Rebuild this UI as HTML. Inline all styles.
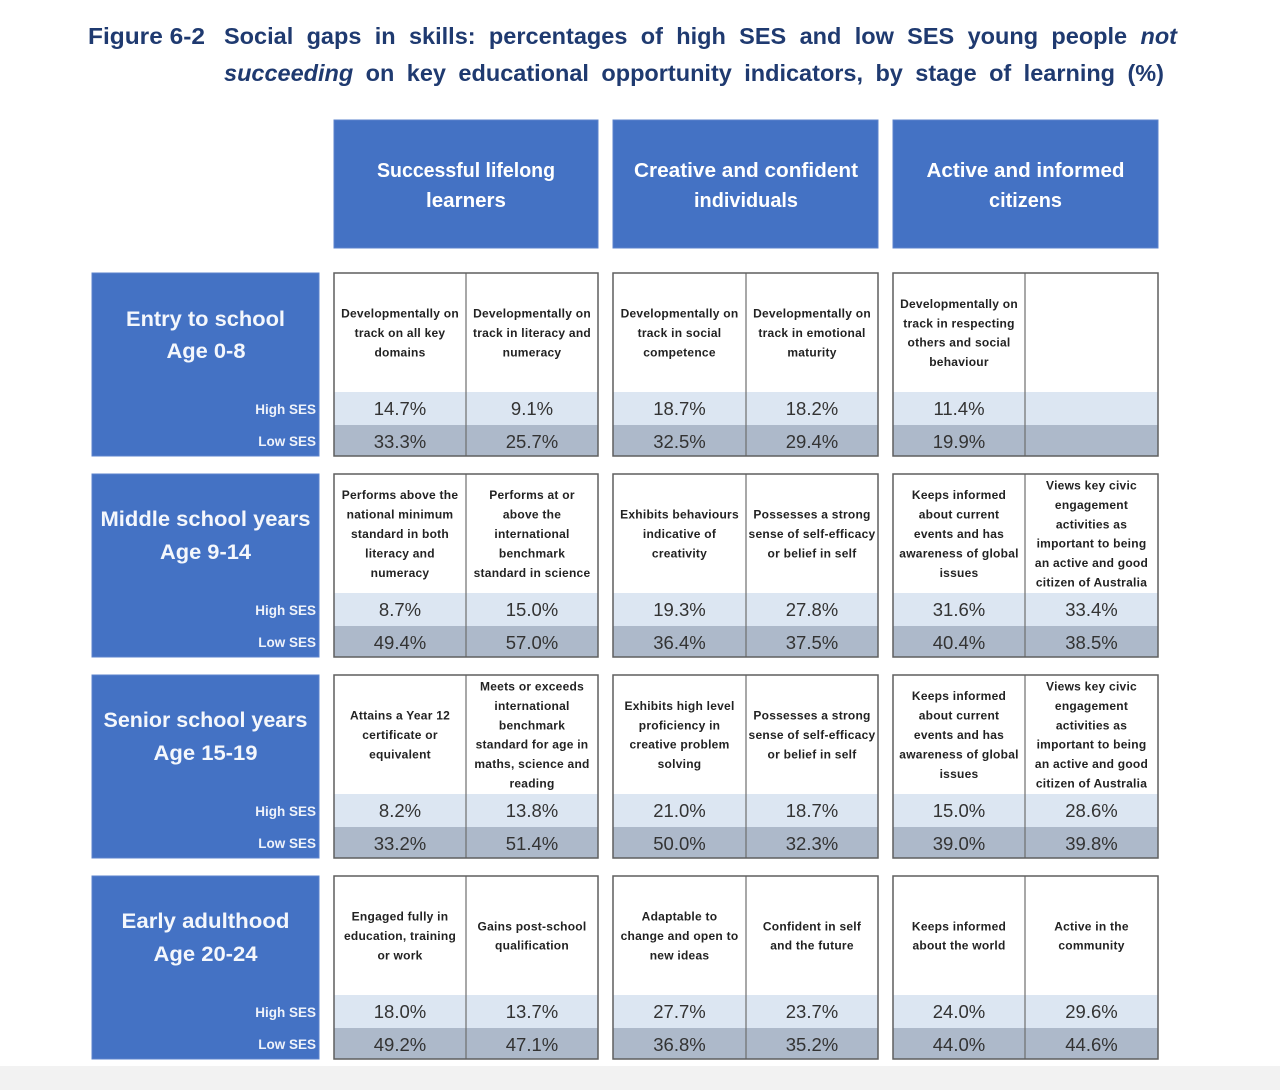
<!DOCTYPE html>
<html>
<head>
<meta charset="utf-8">
<style>
html,body{margin:0;padding:0;background:#ffffff;}
svg{display:block;}
.t{font-family:"Liberation Sans",sans-serif;font-weight:bold;font-size:23.5px;fill:#1f3a70;}
.hd{font-family:"Liberation Sans",sans-serif;font-weight:bold;font-size:20px;fill:#ffffff;text-anchor:middle;}
.lab{font-family:"Liberation Sans",sans-serif;font-weight:bold;font-size:21px;fill:#f4f7fc;text-anchor:middle;}
.ses{font-family:"Liberation Sans",sans-serif;font-weight:bold;font-size:13.5px;fill:#eef2fa;text-anchor:end;}
.d{font-family:"Liberation Sans",sans-serif;font-weight:bold;font-size:12px;fill:#222222;text-anchor:middle;letter-spacing:0.25px;}
.v{font-family:"Liberation Sans",sans-serif;font-size:18.5px;fill:#333333;text-anchor:middle;}
</style>
</head>
<body>
<svg width="1280" height="1090" viewBox="0 0 1280 1090" xmlns="http://www.w3.org/2000/svg">
<rect x="0" y="0" width="1280" height="1090" fill="#ffffff"/>
<rect x="0" y="1066" width="1280" height="24" fill="#f2f2f2"/>

<!-- Title -->
<text class="t" x="88" y="44" textLength="117" lengthAdjust="spacingAndGlyphs">Figure 6-2</text>
<text class="t" x="224" y="44" word-spacing="6.8" textLength="953" lengthAdjust="spacing">Social gaps in skills: percentages of high SES and low SES young people <tspan font-style="italic">not</tspan></text>
<text class="t" x="224" y="81" word-spacing="5.9" textLength="940" lengthAdjust="spacing"><tspan font-style="italic">succeeding</tspan> on key educational opportunity indicators, by stage of learning (%)</text>

<!-- Column headers -->
<rect x="334" y="120" width="264" height="128" fill="#4472c4" stroke="#5b83cc" stroke-width="1"/>
<rect x="613" y="120" width="265" height="128" fill="#4472c4" stroke="#5b83cc" stroke-width="1"/>
<rect x="893" y="120" width="265" height="128" fill="#4472c4" stroke="#5b83cc" stroke-width="1"/>
<text class="hd" x="466" y="177" textLength="178" lengthAdjust="spacingAndGlyphs">Successful lifelong</text>
<text class="hd" x="466" y="207" textLength="80" lengthAdjust="spacingAndGlyphs">learners</text>
<text class="hd" x="746" y="177" textLength="224" lengthAdjust="spacingAndGlyphs">Creative and confident</text>
<text class="hd" x="746" y="207" textLength="104" lengthAdjust="spacingAndGlyphs">individuals</text>
<text class="hd" x="1025.5" y="177" textLength="198" lengthAdjust="spacingAndGlyphs">Active and informed</text>
<text class="hd" x="1025.5" y="207" textLength="73" lengthAdjust="spacingAndGlyphs">citizens</text>

<!-- ROW 1 -->
<g transform="translate(0,273)">
  <rect x="92" y="0" width="227" height="183" fill="#4472c4" stroke="#5b83cc" stroke-width="1"/>
  <text class="lab" x="205.5" y="53" textLength="159" lengthAdjust="spacingAndGlyphs">Entry to school</text>
  <text class="lab" x="206" y="85" textLength="79" lengthAdjust="spacingAndGlyphs">Age 0-8</text>
  <text class="ses" x="316" y="141">High SES</text>
  <text class="ses" x="316" y="173">Low SES</text>

  <rect x="334" y="0" width="264" height="183" fill="#ffffff"/>
  <rect x="334" y="119" width="264" height="33" fill="#dce6f2"/>
  <rect x="334" y="152" width="264" height="31" fill="#adb9ca"/>
  <line x1="466" y1="0" x2="466" y2="183" stroke="#6e6e6e" stroke-width="1.2"/>
  <rect x="334" y="0" width="264" height="183" fill="none" stroke="#5f5f5f" stroke-width="1.5"/>

  <rect x="613" y="0" width="265" height="183" fill="#ffffff"/>
  <rect x="613" y="119" width="265" height="33" fill="#dce6f2"/>
  <rect x="613" y="152" width="265" height="31" fill="#adb9ca"/>
  <line x1="746" y1="0" x2="746" y2="183" stroke="#6e6e6e" stroke-width="1.2"/>
  <rect x="613" y="0" width="265" height="183" fill="none" stroke="#5f5f5f" stroke-width="1.5"/>

  <rect x="893" y="0" width="265" height="183" fill="#ffffff"/>
  <rect x="893" y="119" width="265" height="33" fill="#dce6f2"/>
  <rect x="893" y="152" width="265" height="31" fill="#adb9ca"/>
  <line x1="1025" y1="0" x2="1025" y2="183" stroke="#6e6e6e" stroke-width="1.2"/>
  <rect x="893" y="0" width="265" height="183" fill="none" stroke="#5f5f5f" stroke-width="1.5"/>

  <text class="d" x="400" y="44.6">Developmentally on</text>
  <text class="d" x="400" y="64">track on all key</text>
  <text class="d" x="400" y="83.4">domains</text>
  <text class="d" x="532" y="44.6">Developmentally on</text>
  <text class="d" x="532" y="64">track in literacy and</text>
  <text class="d" x="532" y="83.4">numeracy</text>
  <text class="d" x="679.5" y="44.6">Developmentally on</text>
  <text class="d" x="679.5" y="64">track in social</text>
  <text class="d" x="679.5" y="83.4">competence</text>
  <text class="d" x="812" y="44.6">Developmentally on</text>
  <text class="d" x="812" y="64">track in emotional</text>
  <text class="d" x="812" y="83.4">maturity</text>
  <text class="d" x="959" y="34.9">Developmentally on</text>
  <text class="d" x="959" y="54.3">track in respecting</text>
  <text class="d" x="959" y="73.7">others and social</text>
  <text class="d" x="959" y="93.1">behaviour</text>

  <text class="v" x="400" y="142">14.7%</text>
  <text class="v" x="532" y="142">9.1%</text>
  <text class="v" x="679.5" y="142">18.7%</text>
  <text class="v" x="812" y="142">18.2%</text>
  <text class="v" x="959" y="142">11.4%</text>
  <text class="v" x="400" y="175">33.3%</text>
  <text class="v" x="532" y="175">25.7%</text>
  <text class="v" x="679.5" y="175">32.5%</text>
  <text class="v" x="812" y="175">29.4%</text>
  <text class="v" x="959" y="175">19.9%</text>
</g>

<!-- ROW 2 -->
<g transform="translate(0,474)">
  <rect x="92" y="0" width="227" height="183" fill="#4472c4" stroke="#5b83cc" stroke-width="1"/>
  <text class="lab" x="205.5" y="52" textLength="210" lengthAdjust="spacingAndGlyphs">Middle school years</text>
  <text class="lab" x="205.5" y="85" textLength="91" lengthAdjust="spacingAndGlyphs">Age 9-14</text>
  <text class="ses" x="316" y="141">High SES</text>
  <text class="ses" x="316" y="173">Low SES</text>

  <rect x="334" y="0" width="264" height="183" fill="#ffffff"/>
  <rect x="334" y="119" width="264" height="33" fill="#dce6f2"/>
  <rect x="334" y="152" width="264" height="31" fill="#adb9ca"/>
  <line x1="466" y1="0" x2="466" y2="183" stroke="#6e6e6e" stroke-width="1.2"/>
  <rect x="334" y="0" width="264" height="183" fill="none" stroke="#5f5f5f" stroke-width="1.5"/>

  <rect x="613" y="0" width="265" height="183" fill="#ffffff"/>
  <rect x="613" y="119" width="265" height="33" fill="#dce6f2"/>
  <rect x="613" y="152" width="265" height="31" fill="#adb9ca"/>
  <line x1="746" y1="0" x2="746" y2="183" stroke="#6e6e6e" stroke-width="1.2"/>
  <rect x="613" y="0" width="265" height="183" fill="none" stroke="#5f5f5f" stroke-width="1.5"/>

  <rect x="893" y="0" width="265" height="183" fill="#ffffff"/>
  <rect x="893" y="119" width="265" height="33" fill="#dce6f2"/>
  <rect x="893" y="152" width="265" height="31" fill="#adb9ca"/>
  <line x1="1025" y1="0" x2="1025" y2="183" stroke="#6e6e6e" stroke-width="1.2"/>
  <rect x="893" y="0" width="265" height="183" fill="none" stroke="#5f5f5f" stroke-width="1.5"/>

  <text class="d" x="400" y="25.2">Performs above the</text>
  <text class="d" x="400" y="44.6">national minimum</text>
  <text class="d" x="400" y="64">standard in both</text>
  <text class="d" x="400" y="83.4">literacy and</text>
  <text class="d" x="400" y="102.8">numeracy</text>
  <text class="d" x="532" y="25.2">Performs at or</text>
  <text class="d" x="532" y="44.6">above the</text>
  <text class="d" x="532" y="64">international</text>
  <text class="d" x="532" y="83.4">benchmark</text>
  <text class="d" x="532" y="102.8">standard in science</text>
  <text class="d" x="679.5" y="44.6">Exhibits behaviours</text>
  <text class="d" x="679.5" y="64">indicative of</text>
  <text class="d" x="679.5" y="83.4">creativity</text>
  <text class="d" x="812" y="44.6">Possesses a strong</text>
  <text class="d" x="812" y="64">sense of self-efficacy</text>
  <text class="d" x="812" y="83.4">or belief in self</text>
  <text class="d" x="959" y="25.2">Keeps informed</text>
  <text class="d" x="959" y="44.6">about current</text>
  <text class="d" x="959" y="64">events and has</text>
  <text class="d" x="959" y="83.4">awareness of global</text>
  <text class="d" x="959" y="102.8">issues</text>
  <text class="d" x="1091.5" y="15.5">Views key civic</text>
  <text class="d" x="1091.5" y="34.9">engagement</text>
  <text class="d" x="1091.5" y="54.3">activities as</text>
  <text class="d" x="1091.5" y="73.7">important to being</text>
  <text class="d" x="1091.5" y="93.1">an active and good</text>
  <text class="d" x="1091.5" y="112.5">citizen of Australia</text>

  <text class="v" x="400" y="142">8.7%</text>
  <text class="v" x="532" y="142">15.0%</text>
  <text class="v" x="679.5" y="142">19.3%</text>
  <text class="v" x="812" y="142">27.8%</text>
  <text class="v" x="959" y="142">31.6%</text>
  <text class="v" x="1091.5" y="142">33.4%</text>
  <text class="v" x="400" y="175">49.4%</text>
  <text class="v" x="532" y="175">57.0%</text>
  <text class="v" x="679.5" y="175">36.4%</text>
  <text class="v" x="812" y="175">37.5%</text>
  <text class="v" x="959" y="175">40.4%</text>
  <text class="v" x="1091.5" y="175">38.5%</text>
</g>

<!-- ROW 3 -->
<g transform="translate(0,675)">
  <rect x="92" y="0" width="227" height="183" fill="#4472c4" stroke="#5b83cc" stroke-width="1"/>
  <text class="lab" x="205.5" y="52" textLength="204" lengthAdjust="spacingAndGlyphs">Senior school years</text>
  <text class="lab" x="205.5" y="85" textLength="104" lengthAdjust="spacingAndGlyphs">Age 15-19</text>
  <text class="ses" x="316" y="141">High SES</text>
  <text class="ses" x="316" y="173">Low SES</text>

  <rect x="334" y="0" width="264" height="183" fill="#ffffff"/>
  <rect x="334" y="119" width="264" height="33" fill="#dce6f2"/>
  <rect x="334" y="152" width="264" height="31" fill="#adb9ca"/>
  <line x1="466" y1="0" x2="466" y2="183" stroke="#6e6e6e" stroke-width="1.2"/>
  <rect x="334" y="0" width="264" height="183" fill="none" stroke="#5f5f5f" stroke-width="1.5"/>

  <rect x="613" y="0" width="265" height="183" fill="#ffffff"/>
  <rect x="613" y="119" width="265" height="33" fill="#dce6f2"/>
  <rect x="613" y="152" width="265" height="31" fill="#adb9ca"/>
  <line x1="746" y1="0" x2="746" y2="183" stroke="#6e6e6e" stroke-width="1.2"/>
  <rect x="613" y="0" width="265" height="183" fill="none" stroke="#5f5f5f" stroke-width="1.5"/>

  <rect x="893" y="0" width="265" height="183" fill="#ffffff"/>
  <rect x="893" y="119" width="265" height="33" fill="#dce6f2"/>
  <rect x="893" y="152" width="265" height="31" fill="#adb9ca"/>
  <line x1="1025" y1="0" x2="1025" y2="183" stroke="#6e6e6e" stroke-width="1.2"/>
  <rect x="893" y="0" width="265" height="183" fill="none" stroke="#5f5f5f" stroke-width="1.5"/>

  <text class="d" x="400" y="44.6">Attains a Year 12</text>
  <text class="d" x="400" y="64">certificate or</text>
  <text class="d" x="400" y="83.4">equivalent</text>
  <text class="d" x="532" y="15.5">Meets or exceeds</text>
  <text class="d" x="532" y="34.9">international</text>
  <text class="d" x="532" y="54.3">benchmark</text>
  <text class="d" x="532" y="73.7">standard for age in</text>
  <text class="d" x="532" y="93.1">maths, science and</text>
  <text class="d" x="532" y="112.5">reading</text>
  <text class="d" x="679.5" y="34.9">Exhibits high level</text>
  <text class="d" x="679.5" y="54.3">proficiency in</text>
  <text class="d" x="679.5" y="73.7">creative problem</text>
  <text class="d" x="679.5" y="93.1">solving</text>
  <text class="d" x="812" y="44.6">Possesses a strong</text>
  <text class="d" x="812" y="64">sense of self-efficacy</text>
  <text class="d" x="812" y="83.4">or belief in self</text>
  <text class="d" x="959" y="25.2">Keeps informed</text>
  <text class="d" x="959" y="44.6">about current</text>
  <text class="d" x="959" y="64">events and has</text>
  <text class="d" x="959" y="83.4">awareness of global</text>
  <text class="d" x="959" y="102.8">issues</text>
  <text class="d" x="1091.5" y="15.5">Views key civic</text>
  <text class="d" x="1091.5" y="34.9">engagement</text>
  <text class="d" x="1091.5" y="54.3">activities as</text>
  <text class="d" x="1091.5" y="73.7">important to being</text>
  <text class="d" x="1091.5" y="93.1">an active and good</text>
  <text class="d" x="1091.5" y="112.5">citizen of Australia</text>

  <text class="v" x="400" y="142">8.2%</text>
  <text class="v" x="532" y="142">13.8%</text>
  <text class="v" x="679.5" y="142">21.0%</text>
  <text class="v" x="812" y="142">18.7%</text>
  <text class="v" x="959" y="142">15.0%</text>
  <text class="v" x="1091.5" y="142">28.6%</text>
  <text class="v" x="400" y="175">33.2%</text>
  <text class="v" x="532" y="175">51.4%</text>
  <text class="v" x="679.5" y="175">50.0%</text>
  <text class="v" x="812" y="175">32.3%</text>
  <text class="v" x="959" y="175">39.0%</text>
  <text class="v" x="1091.5" y="175">39.8%</text>
</g>

<!-- ROW 4 -->
<g transform="translate(0,876)">
  <rect x="92" y="0" width="227" height="183" fill="#4472c4" stroke="#5b83cc" stroke-width="1"/>
  <text class="lab" x="205.5" y="52" textLength="168" lengthAdjust="spacingAndGlyphs">Early adulthood</text>
  <text class="lab" x="205.5" y="85" textLength="104" lengthAdjust="spacingAndGlyphs">Age 20-24</text>
  <text class="ses" x="316" y="141">High SES</text>
  <text class="ses" x="316" y="173">Low SES</text>

  <rect x="334" y="0" width="264" height="183" fill="#ffffff"/>
  <rect x="334" y="119" width="264" height="33" fill="#dce6f2"/>
  <rect x="334" y="152" width="264" height="31" fill="#adb9ca"/>
  <line x1="466" y1="0" x2="466" y2="183" stroke="#6e6e6e" stroke-width="1.2"/>
  <rect x="334" y="0" width="264" height="183" fill="none" stroke="#5f5f5f" stroke-width="1.5"/>

  <rect x="613" y="0" width="265" height="183" fill="#ffffff"/>
  <rect x="613" y="119" width="265" height="33" fill="#dce6f2"/>
  <rect x="613" y="152" width="265" height="31" fill="#adb9ca"/>
  <line x1="746" y1="0" x2="746" y2="183" stroke="#6e6e6e" stroke-width="1.2"/>
  <rect x="613" y="0" width="265" height="183" fill="none" stroke="#5f5f5f" stroke-width="1.5"/>

  <rect x="893" y="0" width="265" height="183" fill="#ffffff"/>
  <rect x="893" y="119" width="265" height="33" fill="#dce6f2"/>
  <rect x="893" y="152" width="265" height="31" fill="#adb9ca"/>
  <line x1="1025" y1="0" x2="1025" y2="183" stroke="#6e6e6e" stroke-width="1.2"/>
  <rect x="893" y="0" width="265" height="183" fill="none" stroke="#5f5f5f" stroke-width="1.5"/>

  <text class="d" x="400" y="44.6">Engaged fully in</text>
  <text class="d" x="400" y="64">education, training</text>
  <text class="d" x="400" y="83.4">or work</text>
  <text class="d" x="532" y="54.3">Gains post-school</text>
  <text class="d" x="532" y="73.7">qualification</text>
  <text class="d" x="679.5" y="44.6">Adaptable to</text>
  <text class="d" x="679.5" y="64">change and open to</text>
  <text class="d" x="679.5" y="83.4">new ideas</text>
  <text class="d" x="812" y="54.3">Confident in self</text>
  <text class="d" x="812" y="73.7">and the future</text>
  <text class="d" x="959" y="54.3">Keeps informed</text>
  <text class="d" x="959" y="73.7">about the world</text>
  <text class="d" x="1091.5" y="54.3">Active in the</text>
  <text class="d" x="1091.5" y="73.7">community</text>

  <text class="v" x="400" y="142">18.0%</text>
  <text class="v" x="532" y="142">13.7%</text>
  <text class="v" x="679.5" y="142">27.7%</text>
  <text class="v" x="812" y="142">23.7%</text>
  <text class="v" x="959" y="142">24.0%</text>
  <text class="v" x="1091.5" y="142">29.6%</text>
  <text class="v" x="400" y="175">49.2%</text>
  <text class="v" x="532" y="175">47.1%</text>
  <text class="v" x="679.5" y="175">36.8%</text>
  <text class="v" x="812" y="175">35.2%</text>
  <text class="v" x="959" y="175">44.0%</text>
  <text class="v" x="1091.5" y="175">44.6%</text>
</g>
</svg>
</body>
</html>
